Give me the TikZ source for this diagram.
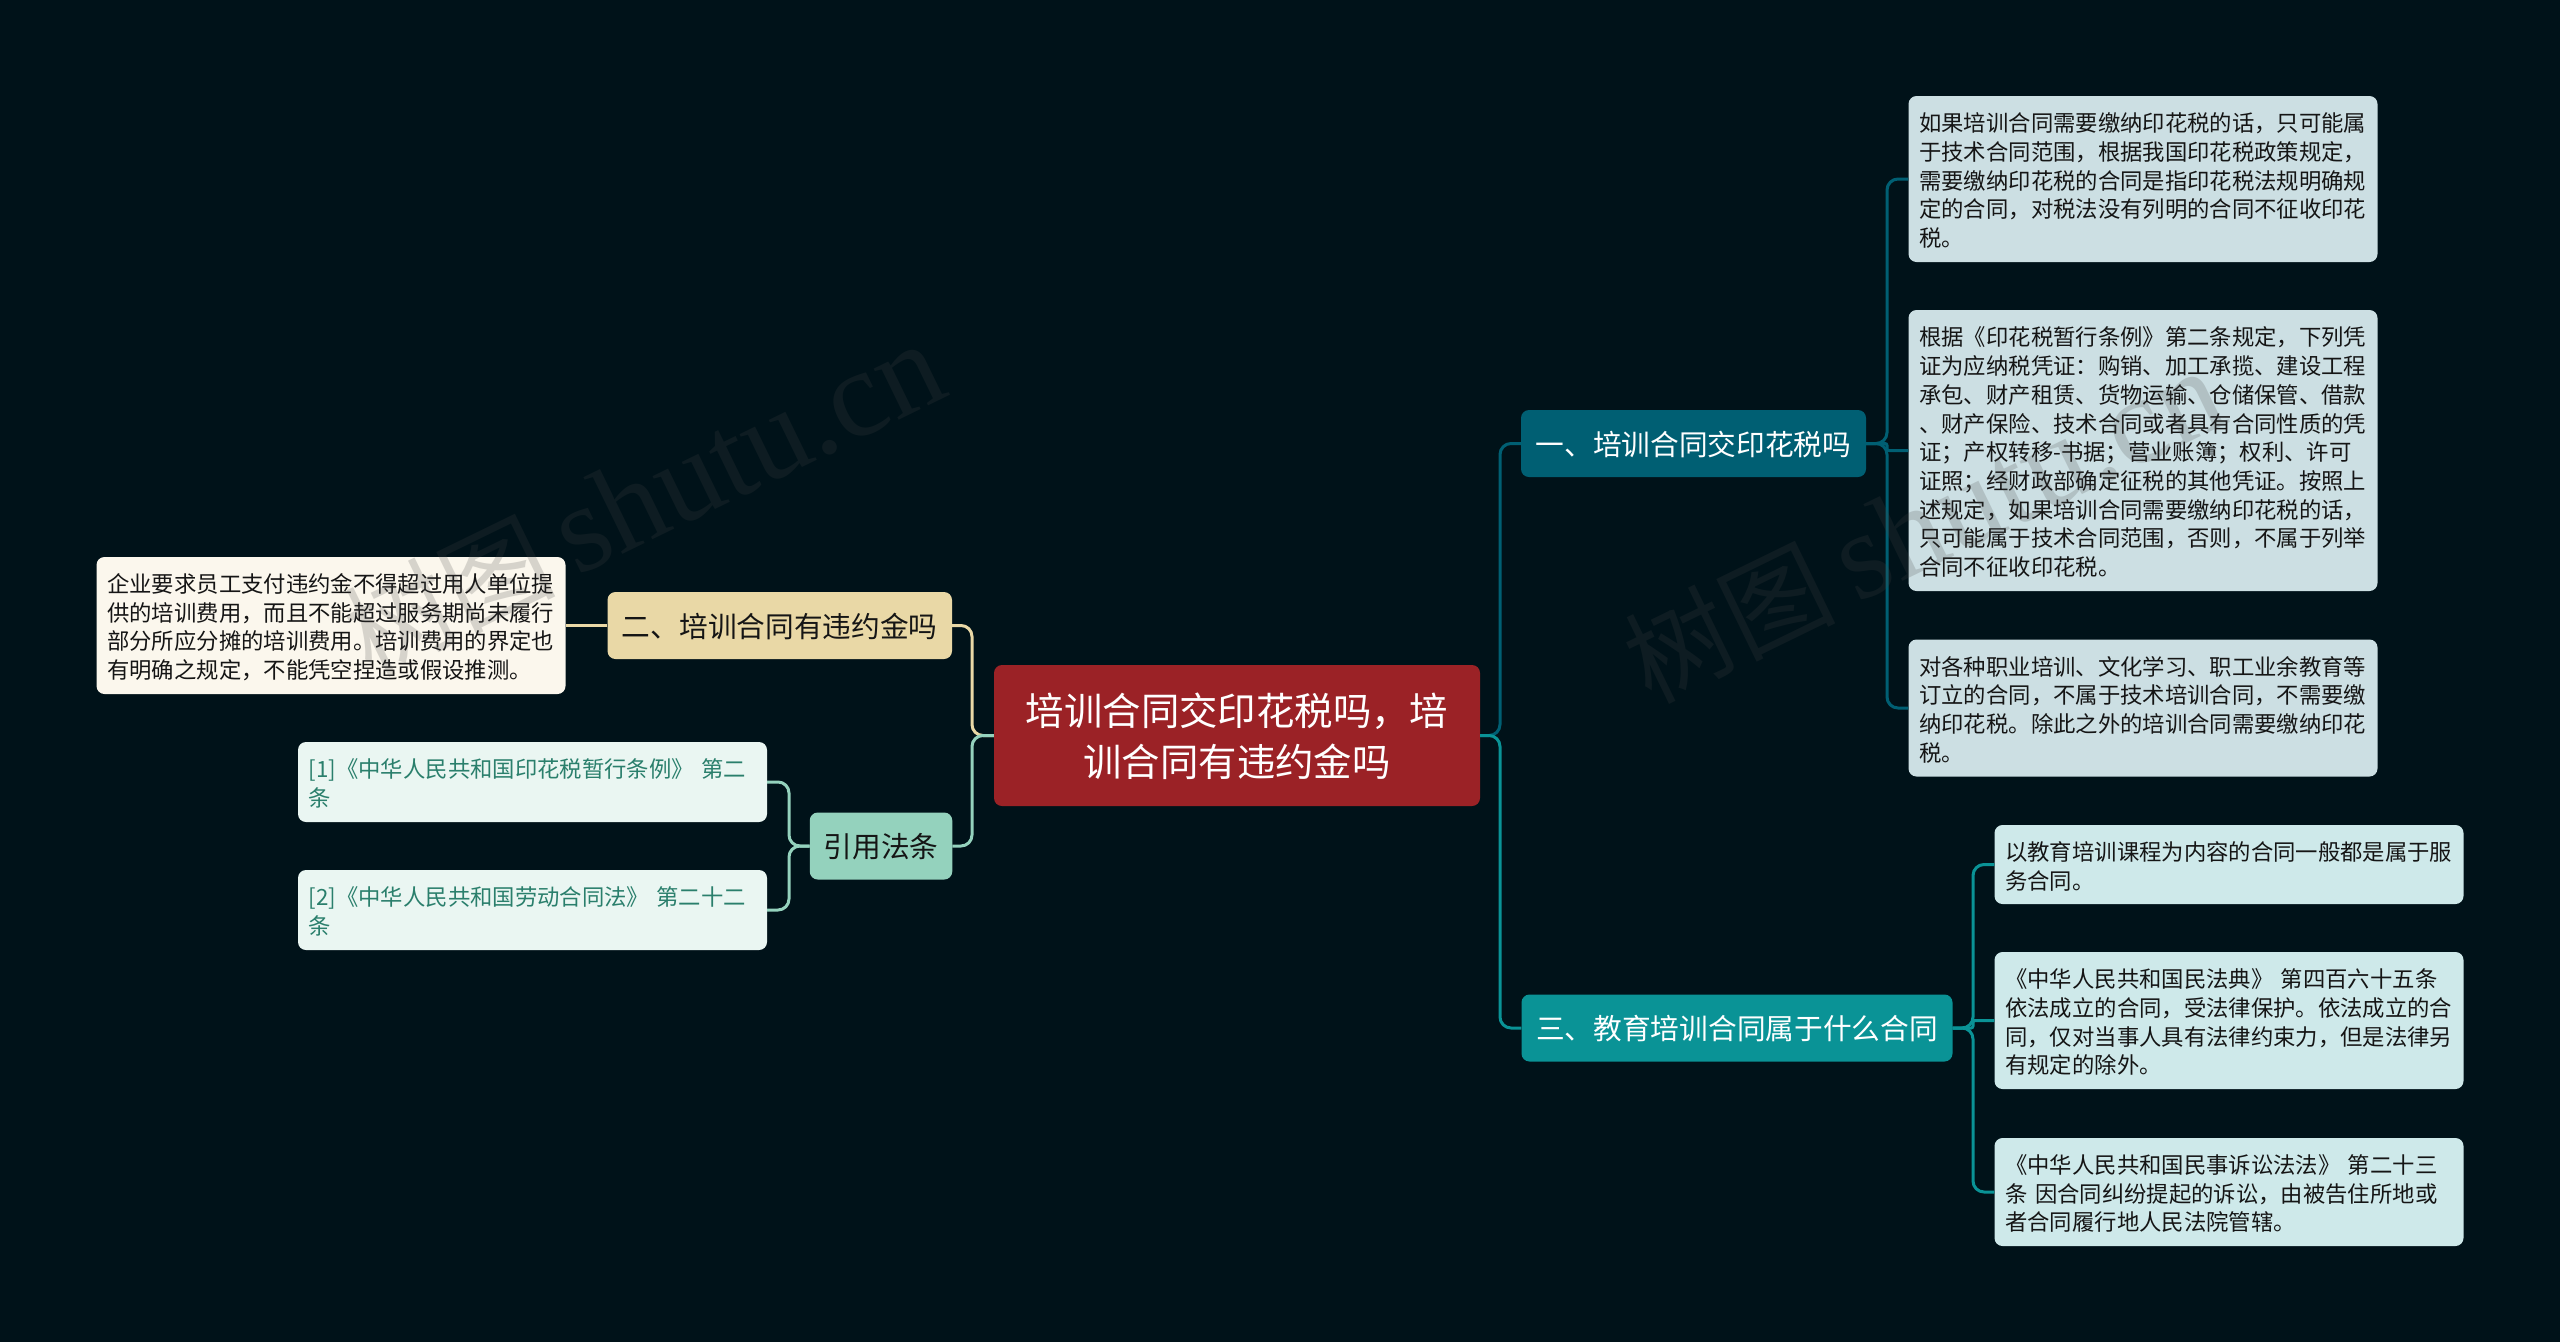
\documentclass[tikz,border=0pt]{standalone}
\usepackage{fontspec}
\newfontfamily\cjk{Noto Sans CJK SC}
\newfontfamily\wmlatin{Liberation Serif}
\definecolor{bgc}{HTML}{001219}
\definecolor{rootc}{HTML}{9B2226}
\definecolor{bonec}{HTML}{005F73}
\definecolor{bthreec}{HTML}{0A9396}
\definecolor{byelc}{HTML}{E9D8A6}
\definecolor{bgrnc}{HTML}{94D2BD}
\definecolor{lonec}{HTML}{CCDFE3}
\definecolor{lthreec}{HTML}{CEE9EA}
\definecolor{lyelc}{HTML}{FBF7ED}
\definecolor{lgrnc}{HTML}{EAF6F2}
\definecolor{reftxt}{HTML}{2A7F6C}
\definecolor{darktxt}{HTML}{151515}
\definecolor{wmc}{HTML}{464646}
\tikzset{
  boxbase/.style={rectangle,rounded corners=8pt,inner ysep=0pt,anchor=center},
  rootbox/.style={boxbase,fill=rootc,text=white,minimum width=486pt,minimum height=141pt,
    text width=440pt,inner xsep=23pt,align=center,font=\cjk\fontsize{38.4}{51}\selectfont,
    execute at begin node={\rule{0pt}{0.9em}}},
  branchbox/.style={boxbase,minimum height=67pt,align=center,inner xsep=0pt,
    font=\cjk\fontsize{28.7}{36}\selectfont,
    execute at begin node={\rule{0pt}{0.9em}}},
  leafbox/.style={boxbase,text=darktxt,text width=447.5pt,inner xsep=10.75pt,align=left,
    font=\cjk\fontsize{22.35}{28.7}\selectfont,
    execute at begin node={\rule{0pt}{1em}}},
  conn/.style={line width=3pt,rounded corners=11pt},
  jog/.style={line width=3pt,rounded corners=2pt},
  wmark/.style={text=wmc,text opacity=0.2,rotate=26,anchor=west,inner sep=0pt}
}
\newcommand{\wmtext}{{\cjk\fontsize{105}{120}\selectfont 树图}\hspace{20pt}{\wmlatin\fontsize{124}{130}\selectfont shutu.cn}}
\begin{document}
\begin{tikzpicture}[x=1pt,y=-1pt]
\path[use as bounding box,fill=bgc] (0,0) rectangle (2560,1342);

% junction columns
\coordinate (trunkL) at (972,0);
\coordinate (trunkR) at (1500,0);
\coordinate (colRef) at (789,0);
\coordinate (colOne) at (1887,0);
\coordinate (colThree) at (1973,0);

% nodes
\node[rootbox] (root) at (1237,735.5) {培训合同交印花税吗，培\\训合同有违约金吗};

\node[branchbox,fill=bonec,text=white,text width=345pt] (bone) at (1693.5,443.5) {一、培训合同交印花税吗};
\node[branchbox,fill=bthreec,text=white,text width=431pt] (bthree) at (1737,1028) {三、教育培训合同属于什么合同};
\node[branchbox,fill=byelc,text=darktxt,text width=344.5pt] (byel) at (779.75,625.5) {二、培训合同有违约金吗};
\node[branchbox,fill=bgrnc,text=darktxt,text width=142.5pt] (bgrn) at (881,846) {引用法条};

\node[leafbox,fill=lonec,minimum height=166pt] (la) at (2143,179) {如果培训合同需要缴纳印花税的话，只可能属\\于技术合同范围，根据我国印花税政策规定，\\需要缴纳印花税的合同是指印花税法规明确规\\定的合同，对税法没有列明的合同不征收印花\\税。};
\node[leafbox,fill=lonec,minimum height=281pt] (lb) at (2143,450.5) {根据《印花税暂行条例》第二条规定，下列凭\\证为应纳税凭证：购销、加工承揽、建设工程\\承包、财产租赁、货物运输、仓储保管、借款\\、财产保险、技术合同或者具有合同性质的凭\\证；产权转移-书据；营业账簿；权利、许可\\证照；经财政部确定征税的其他凭证。按照上\\述规定，如果培训合同需要缴纳印花税的话，\\只可能属于技术合同范围，否则，不属于列举\\合同不征收印花税。};
\node[leafbox,fill=lonec,minimum height=137pt] (lc) at (2143,708) {对各种职业培训、文化学习、职工业余教育等\\订立的合同，不属于技术培训合同，不需要缴\\纳印花税。除此之外的培训合同需要缴纳印花\\税。};

\node[leafbox,fill=lthreec,minimum height=79pt] (ld) at (2229,864.5) {以教育培训课程为内容的合同一般都是属于服\\务合同。};
\node[leafbox,fill=lthreec,minimum height=137pt] (le) at (2229,1020.5) {《中华人民共和国民法典》 第四百六十五条\\依法成立的合同，受法律保护。依法成立的合\\同，仅对当事人具有法律约束力，但是法律另\\有规定的除外。};
\node[leafbox,fill=lthreec,minimum height=108pt] (lf) at (2229,1192) {《中华人民共和国民事诉讼法法》 第二十三\\条 因合同纠纷提起的诉讼，由被告住所地或\\者合同履行地人民法院管辖。};

\node[leafbox,fill=lyelc,minimum height=137pt] (lg) at (331,625.5) {企业要求员工支付违约金不得超过用人单位提\\供的培训费用，而且不能超过服务期尚未履行\\部分所应分摊的培训费用。培训费用的界定也\\有明确之规定，不能凭空捏造或假设推测。};

\node[leafbox,fill=lgrnc,text=reftxt,minimum height=80pt] (lh) at (532.5,782) {[1]《中华人民共和国印花税暂行条例》 第二\\条};
\node[leafbox,fill=lgrnc,text=reftxt,minimum height=80pt] (li) at (532.5,910) {[2]《中华人民共和国劳动合同法》 第二十二\\条};

% connectors
\draw[conn,byelc] (root.west) -- (trunkL |- root.west) -- (trunkL |- byel.east) -- (byel.east);
\draw[conn,bgrnc] (root.west) -- (trunkL |- root.west) -- (trunkL |- bgrn.east) -- (bgrn.east);
\draw[conn,bonec] (root.east) -- (trunkR |- root.east) -- (trunkR |- bone.west) -- (bone.west);
\draw[conn,bthreec] (root.east) -- (trunkR |- root.east) -- (trunkR |- bthree.west) -- (bthree.west);

\draw[conn,bonec] (bone.east) -- (colOne |- bone.east) -- (colOne |- la.west) -- (la.west);
\draw[jog,bonec] (bone.east) -- (colOne |- bone.east) -- (colOne |- lb.west) -- (lb.west);
\draw[conn,bonec] (bone.east) -- (colOne |- bone.east) -- (colOne |- lc.west) -- (lc.west);

\draw[conn,bthreec] (bthree.east) -- (colThree |- bthree.east) -- (colThree |- ld.west) -- (ld.west);
\draw[jog,bthreec] (bthree.east) -- (colThree |- bthree.east) -- (colThree |- le.west) -- (le.west);
\draw[conn,bthreec] (bthree.east) -- (colThree |- bthree.east) -- (colThree |- lf.west) -- (lf.west);

\draw[line width=3pt,byelc] (byel.west) -- (lg.east);

\draw[conn,bgrnc] (bgrn.west) -- (colRef |- bgrn.west) -- (colRef |- lh.east) -- (lh.east);
\draw[conn,bgrnc] (bgrn.west) -- (colRef |- bgrn.west) -- (colRef |- li.east) -- (li.east);

% watermark
\node[wmark] (wmA) at (353,642) {\wmtext};
\node[wmark] (wmB) at (1633,669) {\wmtext};
\end{tikzpicture}
\end{document}
